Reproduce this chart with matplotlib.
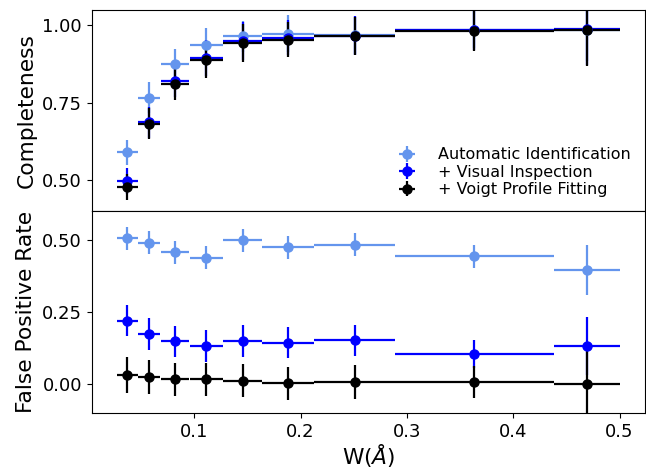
import matplotlib
matplotlib.use("Agg")
import matplotlib.pyplot as plt
import numpy as np

# bin centres and half-widths (W in Angstrom)
w_center = [0.037, 0.0575, 0.082, 0.1115, 0.1455, 0.1885, 0.251, 0.3635, 0.469]
w_half = [0.0098, 0.0105, 0.0135, 0.0155, 0.0185, 0.0245, 0.038, 0.0745, 0.031]

# Completeness
comp_auto = [0.591, 0.767, 0.874, 0.938, 0.965, 0.973, 0.968, 0.986, 0.986]
comp_auto_err = [0.04, 0.05, 0.05, 0.055, 0.05, 0.06, 0.06, 0.06, 0.1]
comp_vis = [0.498, 0.687, 0.820, 0.896, 0.950, 0.960, 0.967, 0.985, 0.987]
comp_vis_err = [0.042, 0.05, 0.05, 0.058, 0.06, 0.057, 0.062, 0.065, 0.116]
comp_voigt = [0.479, 0.683, 0.811, 0.890, 0.943, 0.954, 0.965, 0.982, 0.986]
comp_voigt_err = [0.042, 0.05, 0.05, 0.058, 0.06, 0.057, 0.062, 0.065, 0.116]

# False positive rate
fpr_auto = [0.507, 0.492, 0.458, 0.440, 0.500, 0.475, 0.484, 0.444, 0.396]
fpr_auto_err = [0.04, 0.04, 0.04, 0.04, 0.04, 0.04, 0.04, 0.04, 0.087]
fpr_vis = [0.221, 0.175, 0.150, 0.133, 0.150, 0.144, 0.153, 0.106, 0.133]
fpr_vis_err = [0.055, 0.055, 0.054, 0.054, 0.055, 0.054, 0.054, 0.048, 0.10]
fpr_voigt = [0.032, 0.025, 0.017, 0.017, 0.013, 0.003, 0.007, 0.009, 0.0]
fpr_voigt_err = [0.063, 0.06, 0.058, 0.058, 0.058, 0.058, 0.059, 0.056, 0.12]

labels = ["Automatic Identification", "+ Visual Inspection", "+ Voigt Profile Fitting"]
colors = ["cornflowerblue", "blue", "black"]

fig, (ax1, ax2) = plt.subplots(2, 1, sharex=True, figsize=(6.46, 4.71), dpi=100)
fig.subplots_adjust(left=0.142, right=0.998, top=0.979, bottom=0.123, hspace=0)

kw = dict(fmt="o", ms=6.5, elinewidth=1.6, capsize=0)
for y, e, c, lab in zip([comp_auto, comp_vis, comp_voigt],
                        [comp_auto_err, comp_vis_err, comp_voigt_err], colors, labels):
    ax1.errorbar(w_center, y, xerr=w_half, yerr=e, color=c, label=lab, **kw)
for y, e, c in zip([fpr_auto, fpr_vis, fpr_voigt],
                   [fpr_auto_err, fpr_vis_err, fpr_voigt_err], colors):
    ax2.errorbar(w_center, y, xerr=w_half, yerr=e, color=c, **kw)

ax1.set_ylim(0.4, 1.05)
ax2.set_ylim(-0.1, 0.6)
ax1.set_yticks([0.5, 0.75, 1.0])
ax2.set_yticks([0.0, 0.25, 0.5])
ax2.set_xticks([0.1, 0.2, 0.3, 0.4, 0.5])
ax1.set_ylabel("Completeness", fontsize=15.7)
ax2.set_ylabel("False Positive Rate", fontsize=15.7)
ax2.set_xlabel(r"W($\AA$)", fontsize=15.7, labelpad=1)
for ax in (ax1, ax2):
    ax.tick_params(labelsize=13)
ax1.legend(loc="lower right", frameon=False, fontsize=11.5, labelspacing=0.15,
           handletextpad=0.9)

fig.savefig("out.png", dpi=100)
